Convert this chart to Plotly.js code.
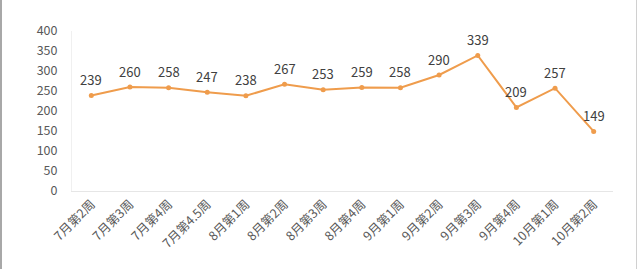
<!DOCTYPE html>
<html><head><meta charset="utf-8">
<script src="https://cdn.plot.ly/plotly-3.0.1.min.js"></script>
<style>
body{margin:0;background:#fff;}
#wrap{position:relative;width:640px;height:269px;}
#chart{width:640px;height:269px;}
.bl{position:absolute;top:0;left:0;width:2px;height:269px;background:#a8a8a8;}
.br{position:absolute;top:0;left:636px;width:1px;height:269px;background:#d0d0d0;}
</style></head>
<body><div id="wrap"><div id="chart"></div><div class="bl"></div><div class="br"></div></div>
<script>
const categories = ["7月第2周","7月第3周","7月第4周","7月第4.5周","8月第1周","8月第2周","8月第3周","8月第4周","9月第1周","9月第2周","9月第3周","9月第4周","10月第1周","10月第2周"];
const values = [239,260,258,247,238,267,253,259,258,290,339,209,257,149];
const yTicks = [0,50,100,150,200,250,300,350,400];

const font = '"Noto Sans CJK SC", "Noto Sans", sans-serif';
const annotations = categories.map((c, i) => ({
  x: c, y: values[i], text: String(values[i]), showarrow: false,
  yshift: 16, font: {family: font, size: 13, color: '#404040'}
}));
Plotly.newPlot('chart', [{
  x: categories, y: values, type: 'scatter', mode: 'lines+markers',
  line: {color: '#ef9c4c', width: 2},
  marker: {color: '#ef9c4c', size: 5},
  cliponaxis: false, hoverinfo: 'none'
}], {
  width: 640, height: 269,
  margin: {l: 72, r: 27, t: 31, b: 78},
  paper_bgcolor: '#fff', plot_bgcolor: '#fff',
  showlegend: false,
  annotations: annotations,
  xaxis: {type: 'category', range: [-0.5, 13.5], tickangle: -45,
    tickfont: {family: font, size: 12.5, color: '#595959'},
    showgrid: false, zeroline: false, showline: true, linecolor: '#e6e6e6', linewidth: 1,
    ticks: '', fixedrange: true},
  yaxis: {range: [0, 400], tickvals: yTicks, ticktext: yTicks.map(String),
    tickfont: {family: font, size: 12.5, color: '#595959'},
    showgrid: false, zeroline: false, showline: true, linecolor: '#f0f0f0', linewidth: 1,
    ticks: '', ticklabelstandoff: 11, fixedrange: true}
}, {staticPlot: true});
</script></body></html>
